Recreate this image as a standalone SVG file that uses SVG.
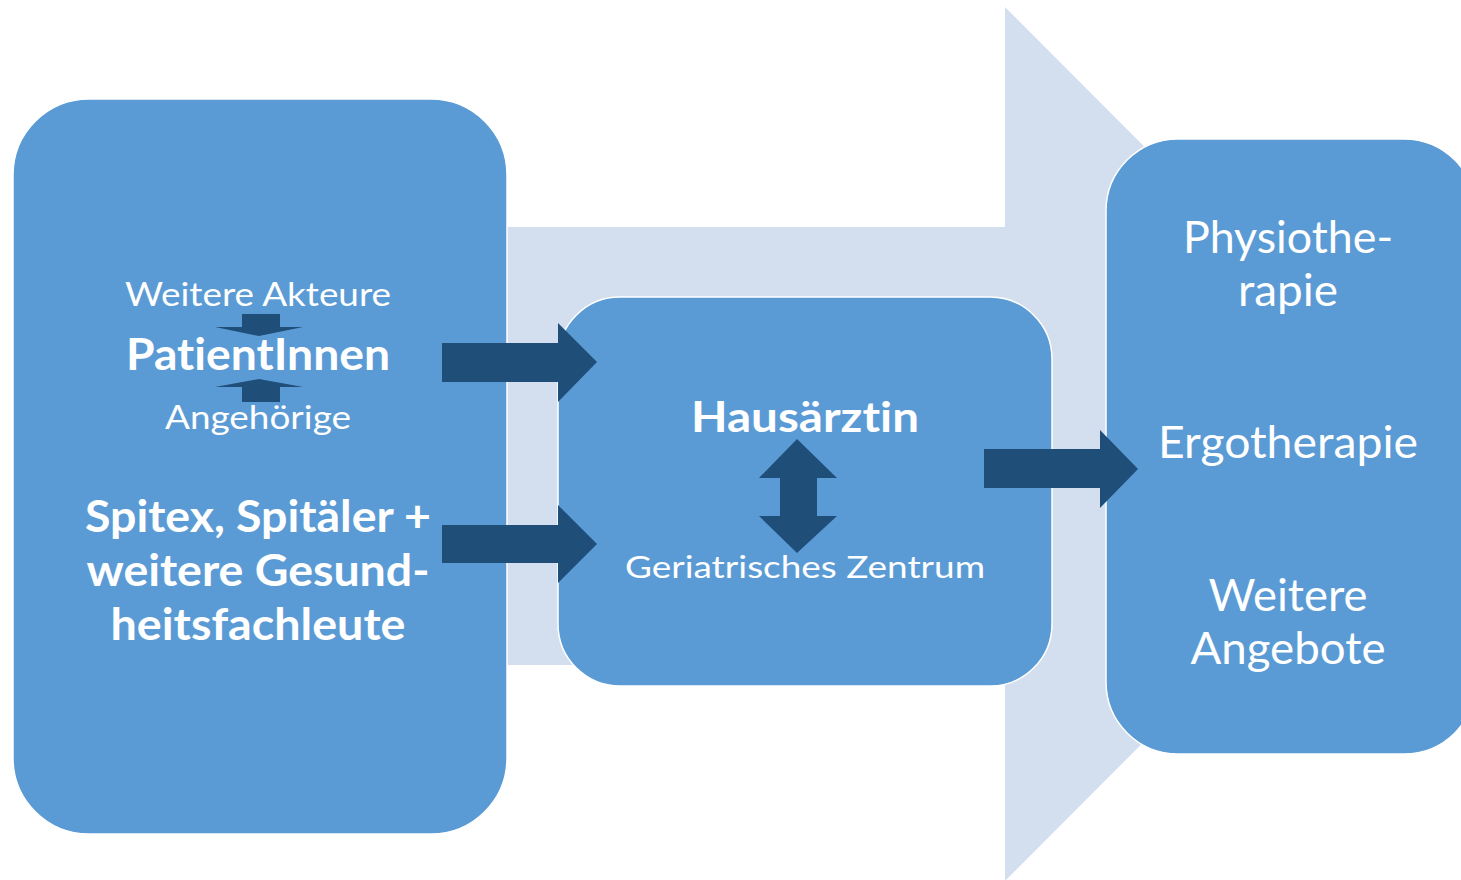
<svg xmlns="http://www.w3.org/2000/svg" width="1461" height="880" viewBox="0 0 1461 880">
<style>
.box{fill:#5B9BD5;stroke:#FFFFFF;stroke-width:1.5}
.dark{fill:#1F4E79}
.t{fill:#FFFFFF;font-family:Lato,"Open Sans","Liberation Sans",sans-serif;text-anchor:middle;font-variant-ligatures:none;font-feature-settings:"liga" 0,"dlig" 0}
.b{font-weight:bold}
</style>
<rect width="1461" height="880" fill="#FFFFFF"/>
<g id="background-arrow">
<polygon points="420,227 1005,227 1005,7 1441,444 1005,881 1005,665 420,665" fill="#D3DFEF"/>
</g>
<g id="node-left">
<rect class="box" x="13" y="99" width="494" height="735" rx="76" ry="76"/>
<text class="t" x="258" y="306" font-size="33" textLength="266" lengthAdjust="spacingAndGlyphs">Weitere Akteure</text>
<text class="t b" x="258" y="370" font-size="44" textLength="264" lengthAdjust="spacingAndGlyphs">PatientInnen</text>
<text class="t" x="258" y="429" font-size="33" textLength="186" lengthAdjust="spacingAndGlyphs">Angehörige</text>
<text class="t b" x="258" y="532" font-size="43" textLength="346" lengthAdjust="spacingAndGlyphs">Spitex, Spitäler +</text>
<text class="t b" x="258" y="586" font-size="43" textLength="343" lengthAdjust="spacingAndGlyphs">weitere Gesund-</text>
<text class="t b" x="258" y="640" font-size="43" textLength="295" lengthAdjust="spacingAndGlyphs">heitsfachleute</text>
</g>
<g id="node-middle">
<rect class="box" x="558" y="297" width="494" height="389" rx="62" ry="62"/>
<text class="t b" x="805" y="432" font-size="42" textLength="228" lengthAdjust="spacingAndGlyphs">Hausärztin</text>
<text class="t" x="805" y="578" font-size="31" textLength="360" lengthAdjust="spacingAndGlyphs">Geriatrisches Zentrum</text>
</g>
<g id="node-right">
<rect class="box" x="1106" y="139" width="370" height="615" rx="72" ry="72"/>
<text class="t" x="1288" y="253" font-size="44" textLength="210" lengthAdjust="spacingAndGlyphs">Physiothe-</text>
<text class="t" x="1288" y="306" font-size="44" textLength="100" lengthAdjust="spacingAndGlyphs">rapie</text>
<text class="t" x="1288" y="458" font-size="44" textLength="260" lengthAdjust="spacingAndGlyphs">Ergotherapie</text>
<text class="t" x="1288" y="611" font-size="44" textLength="159" lengthAdjust="spacingAndGlyphs">Weitere</text>
<text class="t" x="1288" y="664" font-size="44" textLength="195" lengthAdjust="spacingAndGlyphs">Angebote</text>
</g>
<g id="connectors">
<polygon class="dark" points="442,343 558,343 558,323 597,362 558,402 558,382 442,382"/>
<polygon class="dark" points="442,525 558,525 558,505 597,544 558,583 558,563 442,563"/>
<polygon class="dark" points="984,449 1100,449 1100,430 1138,469 1100,508 1100,488 984,488"/>
<polygon class="dark" points="797,439 837,478 817,478 817,516 837,516 797,553 759,516 780,516 780,478 759,478"/>
<polygon class="dark" points="242,314 280,314 280,327 303,327 259,336 215,327 242,327"/>
<polygon class="dark" points="259,379 303,387 280,387 280,402 242,402 242,387 215,387"/>
</g>
</svg>
